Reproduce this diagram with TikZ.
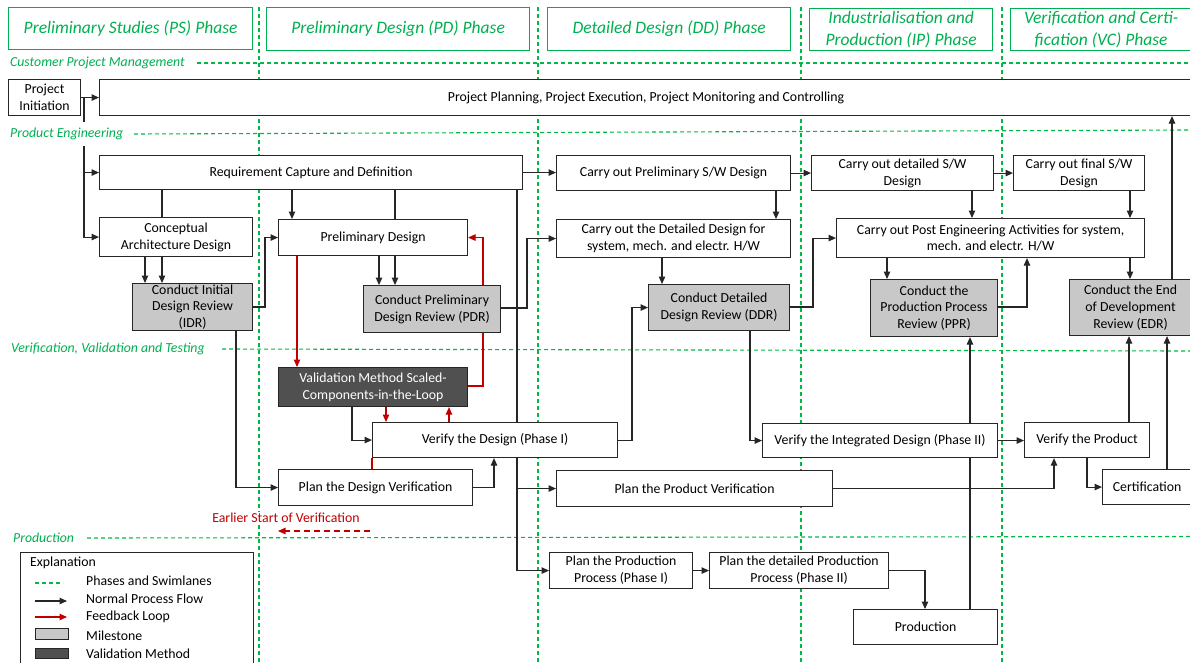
\documentclass[tikz,border=0pt]{standalone}
\usepackage{fontspec}
\setmainfont{Carlito}
\usetikzlibrary{arrows.meta}
\definecolor{pgreen}{RGB}{0,176,80}
\definecolor{swgreen}{RGB}{0,185,70}
\definecolor{msgray}{RGB}{200,200,200}
\definecolor{vmgray}{RGB}{80,80,80}
\definecolor{fred}{RGB}{192,0,0}
\pgfdeclarelayer{bg}\pgfdeclarelayer{conn}\pgfsetlayers{bg,conn,main}
\newcommand\fsn{\fontsize{13.8}{16.8}\selectfont}
\newcommand\fsh{\fontsize{17.5}{21.5}\selectfont\itshape}
\newcommand\bx[7]{\node[#6, minimum width={(#4)-(#2)}, minimum height={(#5)-(#3)}, anchor=north west] (#1) at (#2,#3) {#7};}
\begin{document}
\begin{tikzpicture}[x=1pt,y=-1pt,
  every node/.style={font=\fsn, inner sep=0pt},
  box/.style={draw=black!85, fill=white, line width=1.1pt, align=center, inner xsep=2pt, inner ysep=0pt},
  ms/.style={box, fill=msgray},
  vm/.style={box, fill=vmgray, text=white},
  phase/.style={draw=pgreen, line width=1.2pt, text=pgreen, font=\fsh, align=center, fill=white},
  lane/.style={text=pgreen, font=\fsn\itshape, fill=white, anchor=west, inner xsep=1pt, inner ysep=6pt},
  sw/.style={draw=swgreen, line width=1.1pt, dash pattern=on 4pt off 3pt},
  ln/.style={draw=black!85, line width=1.1pt},
  arr/.style={ln, -{Triangle[length=7.5pt,width=6.5pt]}},
  rln/.style={draw=fred, line width=1.1pt},
  rarr/.style={rln, -{Triangle[length=7.5pt,width=6.5pt]}},
]
\useasboundingbox (0,0) rectangle (1190,662);

% phase headers
\bx{hps}{8}{7}{252}{49}{phase}{Preliminary Studies (PS) Phase}
\bx{hpd}{266}{7}{529}{50}{phase}{Preliminary Design (PD) Phase}
\bx{hdd}{547}{7}{790}{50}{phase}{Detailed Design (DD) Phase}
\bx{hip}{809}{8}{992}{50}{phase}{Industrialisation and\\Production (IP) Phase}
\bx{hvc}{1010}{8}{1191}{50}{phase}{Verification and Certi-\\fication (VC) Phase}

% swimlane and phase lines
\begin{pgfonlayer}{bg}
\coordinate (v1a) at (259,7);   \coordinate (v1b) at (259,662);
\coordinate (v2a) at (538,7);   \coordinate (v2b) at (538,662);
\coordinate (v3a) at (801,7);   \coordinate (v3b) at (801,662);
\coordinate (v4a) at (1002,7);  \coordinate (v4b) at (1002,662);
\coordinate (h1a) at (197,63);  \coordinate (h1b) at (1190,63);
\coordinate (h2a) at (134,134); \coordinate (h2b) at (1190,130);
\coordinate (h3a) at (222,349); \coordinate (h3b) at (1190,351);
\coordinate (h4a) at (87,538);  \coordinate (h4b) at (1190,536.5);
\draw[sw] (v1a) -- (v1b);
\draw[sw] (v2a) -- (v2b);
\draw[sw] (v3a) -- (v3b);
\draw[sw] (v4a) -- (v4b);
\draw[sw] (h1a) -- (h1b);
\draw[sw] (h2a) -- (h2b);
\draw[sw] (h3a) -- (h3b);
\draw[sw] (h4a) -- (h4b);
\end{pgfonlayer}

% process boxes
\bx{pi}{8}{79}{80}{115}{box}{Project\\Initiation}
\bx{ppc}{99}{79}{1192}{115}{box}{Project Planning, Project Execution, Project Monitoring and Controlling}
\bx{req}{99}{155}{522}{189}{box}{Requirement Capture and Definition}
\bx{psw}{556}{155}{790}{190}{box}{Carry out Preliminary S/W Design}
\bx{dsw}{811}{155}{993}{190}{box}{Carry out detailed S/W\\Design}
\bx{fsw}{1013}{155}{1144}{190}{box}{Carry out final S/W\\Design}
\bx{cad}{99}{217}{252}{256}{box}{Conceptual\\Architecture Design}
\bx{pd}{278}{219}{467}{255}{box}{Preliminary Design}
\bx{idr}{132}{283}{252}{330}{ms}{Conduct Initial\\Design Review\\(IDR)}
\bx{pdr}{363}{285}{500}{332}{ms}{Conduct Preliminary\\Design Review (PDR)}
\bx{vm}{278}{367}{467}{406}{vm}{Validation Method Scaled-\\Components-in-the-Loop}
\bx{vd}{372}{422}{617}{457}{box}{Verify the Design (Phase I)}
\bx{pdv}{278}{469}{472}{505}{box}{Plan the Design Verification}
\bx{ddes}{556}{219}{790}{257}{box}{Carry out the Detailed Design for\\system, mech. and electr. H/W}
\bx{ddr}{648}{284}{789}{330}{ms}{Conduct Detailed\\Design Review (DDR)}
\bx{pea}{836}{218}{1144}{257}{box}{Carry out Post Engineering Activities for system,\\mech. and electr. H/W}
\bx{ppr}{870}{279}{997}{336}{ms}{Conduct the\\Production Process\\Review (PPR)}
\bx{edr}{1069}{279}{1191}{335}{ms}{Conduct the End\\of Development\\Review (EDR)}
\bx{vid}{762}{423}{997}{457}{box}{Verify the Integrated Design (Phase II)}
\bx{vp}{1024}{422}{1149}{457}{box}{Verify the Product}
\bx{cert}{1102}{469}{1191}{504}{box}{Certification}
\bx{ppv}{556}{470}{832}{506}{box}{Plan the Product Verification}
\bx{ppp}{549}{552}{692}{588}{box}{Plan the Production\\Process (Phase I)}
\bx{pdpp}{709}{552}{888}{588}{box}{Plan the detailed Production\\Process (Phase II)}
\bx{prod}{853}{609}{997}{644}{box}{Production}

% swimlane labels
\node[lane] (lcpm) at (9,63) {Customer Project Management};
\node[lane] (lpe) at (9,134) {Product Engineering};
\node[lane] (lvvt) at (10,349) {Verification, Validation and Testing};
\node[lane] (lprod) at (12,538) {Production};

% connectors
\begin{pgfonlayer}{conn}
\draw[arr] (pi.east) -- (ppc.west |- pi.east);
\draw[arr] (pi.east -| 84,0) |- (req.west);
\draw[arr] (pi.east -| 84,0) |- (cad.west);
\draw[ln] (req.south -| 162,0) -- (cad.north -| 162,0);
\draw[arr] (req.south -| 292,0) -- (pd.north -| 292,0);
\draw[ln] (req.south -| 395,0) -- (pd.north -| 395,0);
\draw[arr] (req.east) -- (psw.west |- req.east);
\draw[arr] (req.south -| 517,0) |- (ppp.west);
\draw[arr] (req.south -| 517,0) |- (ppv.west);
\draw[arr] (psw.east) -- (dsw.west);
\draw[arr] (dsw.east) -- (fsw.west);
\draw[arr] (psw.south -| 776,0) -- (ddes.north -| 776,0);
\draw[arr] (dsw.south -| 972,0) -- (pea.north -| 972,0);
\draw[arr] (fsw.south -| 1130,0) -- (pea.north -| 1130,0);
\draw[arr] (cad.south -| 145,0) -- (idr.north -| 145,0);
\draw[arr] (cad.south -| 162,0) -- (idr.north -| 162,0);
\draw[arr] (idr.east |- 0,307) -| (265,270) |- (pd.west);
\draw[arr] (idr.south -| 236,0) |- (pdv.west);
\draw[arr] (pd.south -| 379,0) -- (pdr.north -| 379,0);
\draw[arr] (pd.south -| 395,0) -- (pdr.north -| 395,0);
\draw[rarr] (pd.south -| 297,0) -- (vm.north -| 297,0);
\draw[arr] (pdr.east |- 0,308) -| (527,270) |- (ddes.west);
\draw[rarr] (vm.east |- 0,386) -| (483,300) |- (pd.east);
\draw[arr] (vm.south -| 352,0) |- (vd.west);
\draw[rarr] (vm.south -| 386,0) -- (vd.north -| 386,0);
\draw[rarr] (vd.north -| 449,0) -- (vm.south -| 449,0);
\draw[arr] (pdv.east) -| (vd.south -| 494,0);
\draw[rln] (vd.south west) -- (pdv.north -| vd.south west);
\draw[arr] (vd.east) -| (632,380) |- (ddr.west);
\draw[arr] (ddes.south -| 662,0) -- (ddr.north -| 662,0);
\draw[arr] (ddr.east |- 0,307) -| (813,270) |- (pea.west);
\draw[arr] (ddr.south -| 750,0) |- (vid.west);
\draw[arr] (pea.south -| 887,0) -- (ppr.north -| 887,0);
\draw[arr] (pea.south -| 1130,0) -- (edr.north -| 1130,0);
\draw[arr] (ppr.east |- 0,307) -| (pea.south -| 1027,0);
\draw[arr] (edr.north -| 1172,0) -- (ppc.south -| 1172,0);
\draw[arr] (vid.east) -- (vp.west |- vid.east);
\draw[arr] (prod.north -| 970,0) -- (ppr.south -| 970,0);
\draw[arr] (vp.north -| 1129,0) -- (edr.south -| 1129,0);
\draw[arr] (vp.south -| 1087,0) |- (cert.west);
\draw[arr] (cert.north -| 1167,0) -- (edr.south -| 1167,0);
\draw[arr] (ppv.east) -| (vp.south -| 1054,0);
\draw[arr] (ppp.east) -- (pdpp.west);
\draw[arr] (pdpp.east) -| (prod.north -| 925,0);
\end{pgfonlayer}

% earlier start of verification
\node[text=fred, fill=white, inner sep=1pt] (est) at (286,518) {Earlier Start of Verification};
\coordinate (esa) at (370,531);
\coordinate (esb) at (278,531);
\draw[rarr, dash pattern=on 6pt off 4pt] (esa) -- (esb);

% legend
\bx{legend}{20}{552}{253}{672}{box}{}
\node[anchor=west] (lexp) at (30,563) {Explanation};
\coordinate (lg1a) at (35,583); \coordinate (lg1b) at (63,583);
\draw[sw] (lg1a) -- (lg1b);
\node[anchor=west] (lt1) at (86,581) {Phases and Swimlanes};
\coordinate (lg2a) at (35,601); \coordinate (lg2b) at (67,601);
\draw[arr] (lg2a) -- (lg2b);
\node[anchor=west] (lt2) at (86,599) {Normal Process Flow};
\coordinate (lg3a) at (35,617); \coordinate (lg3b) at (67,617);
\draw[rarr] (lg3a) -- (lg3b);
\node[anchor=west] (lt3) at (86,617) {Feedback Loop};
\bx{lg4}{35}{628}{68}{639}{ms}{}
\node[anchor=west] (lt4) at (86,636) {Milestone};
\bx{lg5}{35}{648}{68}{658}{vm}{}
\node[anchor=west] (lt5) at (86,654) {Validation Method};
\end{tikzpicture}
\end{document}
